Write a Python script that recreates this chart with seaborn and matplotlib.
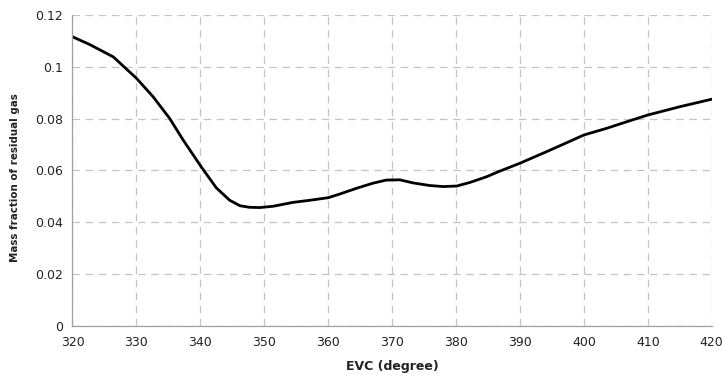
import matplotlib
matplotlib.use("Agg")
import matplotlib.pyplot as plt
import seaborn as sns
import pandas as pd

evc = [320, 322.7, 326.4, 330, 332.6, 335.2, 337.3, 340.2, 342.5, 344.6, 346.2, 347.7,
       349.3, 351.4, 354.5, 357.1, 360, 361.8, 364.4, 367, 369.1, 371.2, 373.3, 375.9,
       378, 380.1, 382.2, 384.8, 386.6, 390, 394.2, 397.3, 400, 403.6, 406.7, 410, 415, 420]
mass_fraction = [0.1116, 0.1086, 0.1038, 0.0956, 0.0885, 0.0801, 0.0718, 0.0612, 0.0533,
                 0.0485, 0.0464, 0.0458, 0.0457, 0.0462, 0.0477, 0.0485, 0.0495, 0.0509,
                 0.0531, 0.0551, 0.0563, 0.0564, 0.0552, 0.0542, 0.0538, 0.0540, 0.0554,
                 0.0576, 0.0595, 0.0628, 0.0673, 0.0707, 0.0737, 0.0763, 0.0788, 0.0814,
                 0.0846, 0.0875]
x_ticks = [320, 330, 340, 350, 360, 370, 380, 390, 400, 410, 420]
y_ticks = [0, 0.02, 0.04, 0.06, 0.08, 0.1, 0.12]
y_tick_labels = ["0", "0.02", "0.04", "0.06", "0.08", "0.1", "0.12"]

df = pd.DataFrame({"EVC": evc, "Mass": mass_fraction})

sns.set_style("white")
plt.rcParams["font.family"] = ["DejaVu Sans"]

fig = plt.figure(figsize=(7.22, 3.75), dpi=100)
ax = fig.add_axes([0.1004, 0.1307, 0.8853, 0.8293])

sns.lineplot(data=df, x="EVC", y="Mass", ax=ax, color="black", linewidth=2.0)

ax.set_xlim(320, 420)
ax.set_ylim(0, 0.12)
ax.set_xticks(x_ticks)
ax.set_yticks(y_ticks)
ax.set_yticklabels(y_tick_labels)
ax.tick_params(axis="both", labelsize=9, color="#999999", labelcolor="#222222",
               length=3, width=0.8, direction="out", pad=4)

ax.grid(True, linestyle=(0, (6, 4.5)), color="#c4c4c4", linewidth=0.9)
for s in ["top", "right"]:
    ax.spines[s].set_visible(False)
for s in ["left", "bottom"]:
    ax.spines[s].set_color("#a0a0a0")
    ax.spines[s].set_linewidth(0.9)
ax.set_axisbelow(True)

ax.set_xlabel("EVC (degree)", fontsize=9, fontweight="bold", color="#222222",
              va="center")
ax.xaxis.set_label_coords(0.5, -0.129)
ax.set_ylabel("Mass fraction of residual gas", fontsize=7.4, fontweight="bold",
              color="#222222", va="center")
ax.yaxis.set_label_coords(-0.09, 0.477)

fig.savefig("out.png", dpi=100)
